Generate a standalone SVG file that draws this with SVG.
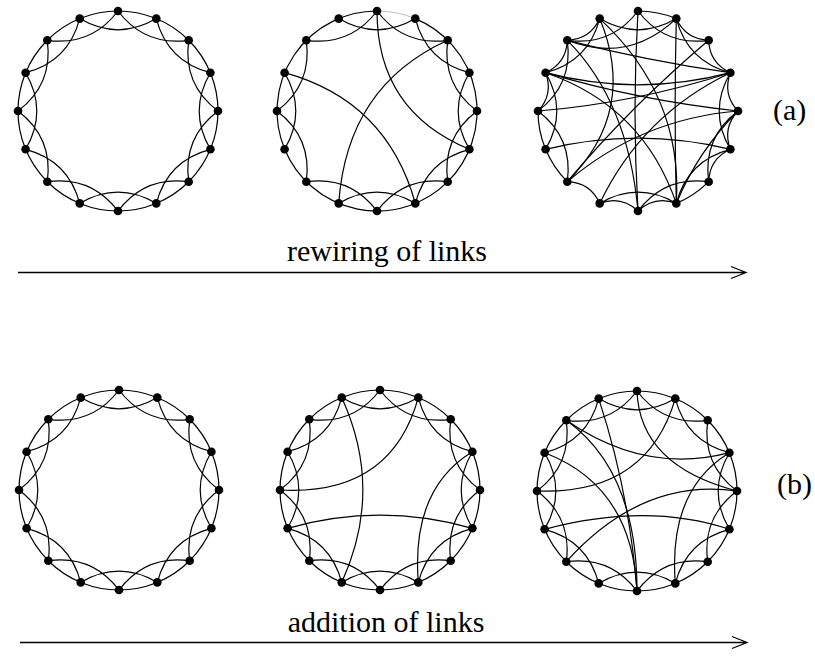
<svg xmlns="http://www.w3.org/2000/svg" xmlns:xlink="http://www.w3.org/1999/xlink" width="815" height="660" viewBox="0 0 815 660">
<style>
.e path,.e circle,.e use{fill:none;stroke:#000;stroke-width:1.2}
.faint{stroke:#b0b0b0 !important;stroke-width:0.8 !important}
.nd circle{fill:#000}
.t{font-family:"Liberation Serif","DejaVu Serif","Times New Roman",serif;font-size:30px;fill:#000}
.ax{fill:none;stroke:#000;stroke-width:1.3}
</style>
<defs>
<path id="s0" d="M0,-100 Q26.8,-64.7 70.7,-70.7"/>
<path id="s1" d="M38.3,-92.4 Q49.5,-49.5 92.4,-38.3"/>
<path id="s2" d="M70.7,-70.7 Q64.7,-26.8 100,0"/>
<path id="s3" d="M92.4,-38.3 Q70,0 92.4,38.3"/>
<path id="s4" d="M100,0 Q64.7,26.8 70.7,70.7"/>
<path id="s5" d="M92.4,38.3 Q49.5,49.5 38.3,92.4"/>
<path id="s6" d="M70.7,70.7 Q26.8,64.7 0,100"/>
<path id="s7" d="M38.3,92.4 Q0,70 -38.3,92.4"/>
<path id="s8" d="M0,100 Q-26.8,64.7 -70.7,70.7"/>
<path id="s9" d="M-38.3,92.4 Q-49.5,49.5 -92.4,38.3"/>
<path id="s10" d="M-70.7,70.7 Q-64.7,26.8 -100,0"/>
<path id="s11" d="M-92.4,38.3 Q-70,0 -92.4,-38.3"/>
<path id="s12" d="M-100,0 Q-64.7,-26.8 -70.7,-70.7"/>
<path id="s13" d="M-92.4,-38.3 Q-49.5,-49.5 -38.3,-92.4"/>
<path id="s14" d="M-70.7,-70.7 Q-26.8,-64.7 0,-100"/>
<path id="s15" d="M-38.3,-92.4 Q0,-70 38.3,-92.4"/>
<g id="lat">
<circle cx="0" cy="0" r="100"/>
<use href="#s0"/><use href="#s1"/><use href="#s2"/><use href="#s3"/><use href="#s4"/><use href="#s5"/><use href="#s6"/><use href="#s7"/><use href="#s8"/><use href="#s9"/><use href="#s10"/><use href="#s11"/><use href="#s12"/><use href="#s13"/><use href="#s14"/><use href="#s15"/>
</g>
</defs>
<rect width="815" height="660" fill="#fff"/>

<g id="connectors">
<g class="e" transform="translate(118,111)"><use href="#lat"/></g>
<g class="e" transform="translate(377,111)">
<path d="M38.3,-92.4 A100,100 0 1 1 0,-100"/>
<path class="faint" d="M0,-100 A100,100 0 0 1 38.3,-92.4"/>
<use href="#s0"/><use href="#s1"/><use href="#s2"/><use href="#s3"/><use href="#s4"/><use href="#s5"/><use href="#s6"/><use href="#s7"/><use href="#s8"/><use href="#s10"/><use href="#s11"/><use href="#s12"/><use href="#s14"/><use href="#s15"/>
<path d="M0,-100 Q0,0 92.4,38.3"/>
<path d="M-92.4,-38.3 Q10,-10 38.3,92.4"/>
<path d="M-38.3,92.4 Q-30,-25 70.7,-70.7"/>
</g>
<g class="e" transform="translate(638,111)">
<path d="M0,-100 A100,100 0 0 1 38.3,-92.4"/>
<path d="M70.7,70.7 A100,100 0 0 1 38.3,92.4"/>
<path d="M-70.7,70.7 A100,100 0 0 1 -92.4,38.3"/>
<path d="M-92.4,38.3 A100,100 0 0 1 -100,0"/>
<path d="M38.3,-92.4 Q47.8,-71.5 70.7,-70.7"/>
<path d="M70.7,-70.7 Q71.5,-47.8 92.4,-38.3"/>
<path d="M92.4,-38.3 Q84.3,-16.8 100,0"/>
<path d="M100,0 Q84.3,16.8 92.4,38.3"/>
<path d="M92.4,38.3 Q71.5,47.8 70.7,70.7"/>
<path d="M38.3,92.4 Q16.8,84.3 0,100"/>
<path d="M0,100 Q-16.8,84.3 -38.3,92.4"/>
<path d="M-38.3,92.4 Q-47.8,71.5 -70.7,70.7"/>
<path d="M-100,0 Q-84.3,-16.8 -92.4,-38.3"/>
<path d="M-92.4,-38.3 Q-71.5,-47.8 -70.7,-70.7"/>
<path d="M-70.7,-70.7 Q-47.8,-71.5 -38.3,-92.4"/>
<use href="#s15"/><use href="#s14"/><use href="#s0"/><use href="#s1"/><use href="#s13"/><use href="#s12"/><use href="#s11"/><use href="#s10"/><use href="#s7"/><use href="#s6"/><use href="#s5"/><use href="#s4"/><use href="#s3"/>
<path d="M-92.4,-38.3 Q3,-10 100,0"/>
<path d="M-92.4,-38.3 Q0,-14 92.4,-38.3"/>
<path d="M-100,0 Q-3,-8 92.4,-38.3"/>
<path d="M-92.4,38.3 Q0,16 92.4,38.3"/>
<path d="M-70.7,70.7 Q3,8 100,0"/>
<path d="M-70.7,70.7 Q-6,-6 70.7,-70.7"/>
<path d="M-38.3,92.4 Q4,4 92.4,-38.3"/>
<path d="M-38.3,-92.4 Q0,0 -70.7,70.7"/>
<path d="M-38.3,-92.4 Q45,-15 38.3,92.4"/>
<path d="M0,-100 Q-6,0 0,100"/>
<path d="M38.3,-92.4 Q36,0 38.3,92.4"/>
<path d="M-70.7,-70.7 Q10,-50 92.4,-38.3"/>
<path d="M-92.4,-38.3 Q5,-5 38.3,92.4"/>
<path d="M-70.7,-70.7 Q-10,-10 0,100"/>
<path d="M100,0 Q60,40 38.3,92.4"/>
<path d="M38.3,-92.4 Q-10,-47 -70.7,-70.7"/>
</g>
<g class="e" transform="translate(119,490)"><use href="#lat"/></g>
<g class="e" transform="translate(380,490)">
<use href="#lat"/>
<path d="M-38.3,-92.4 Q4,0 -38.3,92.4"/>
<path d="M38.3,-92.4 Q11,6 -100,0"/>
<path d="M-92.4,38.3 Q0,12 92.4,38.3"/>
<path d="M92.4,-38.3 Q31,-1 38.3,92.4"/>
</g>
<g class="e" transform="translate(637,491)">
<use href="#lat"/>
<path d="M-38.3,-92.4 Q-8,0 0,100"/>
<path d="M-70.7,-70.7 Q8.5,-16 92.4,-38.3"/>
<path d="M-70.7,-70.7 Q0,-20 0,100"/>
<path d="M-92.4,-38.3 Q-5,-5 0,100"/>
<path d="M-100,0 Q10,4 38.3,-92.4"/>
<path d="M-92.4,38.3 Q10,11 92.4,38.3"/>
<path d="M-70.7,70.7 Q4.8,-13.4 100,0"/>
<path d="M0,-100 Q2.6,-25.4 100,0"/>
<path d="M92.4,-38.3 Q31,-1 38.3,92.4"/>
</g>
<path class="ax" d="M18,272.5 H745 M731,266.5 L746,272.5 L731,278.5"/>
<path class="ax" d="M20,642.5 H746 M732,636.5 L747,642.5 L732,648.5"/>
</g>

<g transform="translate(118,111)" class="nd">
<g id="a1n0"><circle cx="0" cy="-100" r="4.3"/></g><g id="a1n1"><circle cx="38.3" cy="-92.4" r="4.3"/></g><g id="a1n2"><circle cx="70.7" cy="-70.7" r="4.3"/></g><g id="a1n3"><circle cx="92.4" cy="-38.3" r="4.3"/></g><g id="a1n4"><circle cx="100" cy="0" r="4.3"/></g><g id="a1n5"><circle cx="92.4" cy="38.3" r="4.3"/></g><g id="a1n6"><circle cx="70.7" cy="70.7" r="4.3"/></g><g id="a1n7"><circle cx="38.3" cy="92.4" r="4.3"/></g><g id="a1n8"><circle cx="0" cy="100" r="4.3"/></g><g id="a1n9"><circle cx="-38.3" cy="92.4" r="4.3"/></g><g id="a1n10"><circle cx="-70.7" cy="70.7" r="4.3"/></g><g id="a1n11"><circle cx="-92.4" cy="38.3" r="4.3"/></g><g id="a1n12"><circle cx="-100" cy="0" r="4.3"/></g><g id="a1n13"><circle cx="-92.4" cy="-38.3" r="4.3"/></g><g id="a1n14"><circle cx="-70.7" cy="-70.7" r="4.3"/></g><g id="a1n15"><circle cx="-38.3" cy="-92.4" r="4.3"/></g>
</g>
<g transform="translate(377,111)" class="nd">
<g id="a2n0"><circle cx="0" cy="-100" r="4.3"/></g><g id="a2n1"><circle cx="38.3" cy="-92.4" r="4.3"/></g><g id="a2n2"><circle cx="70.7" cy="-70.7" r="4.3"/></g><g id="a2n3"><circle cx="92.4" cy="-38.3" r="4.3"/></g><g id="a2n4"><circle cx="100" cy="0" r="4.3"/></g><g id="a2n5"><circle cx="92.4" cy="38.3" r="4.3"/></g><g id="a2n6"><circle cx="70.7" cy="70.7" r="4.3"/></g><g id="a2n7"><circle cx="38.3" cy="92.4" r="4.3"/></g><g id="a2n8"><circle cx="0" cy="100" r="4.3"/></g><g id="a2n9"><circle cx="-38.3" cy="92.4" r="4.3"/></g><g id="a2n10"><circle cx="-70.7" cy="70.7" r="4.3"/></g><g id="a2n11"><circle cx="-92.4" cy="38.3" r="4.3"/></g><g id="a2n12"><circle cx="-100" cy="0" r="4.3"/></g><g id="a2n13"><circle cx="-92.4" cy="-38.3" r="4.3"/></g><g id="a2n14"><circle cx="-70.7" cy="-70.7" r="4.3"/></g><g id="a2n15"><circle cx="-38.3" cy="-92.4" r="4.3"/></g>
</g>
<g transform="translate(638,111)" class="nd">
<g id="a3n0"><circle cx="0" cy="-100" r="4.3"/></g><g id="a3n1"><circle cx="38.3" cy="-92.4" r="4.3"/></g><g id="a3n2"><circle cx="70.7" cy="-70.7" r="4.3"/></g><g id="a3n3"><circle cx="92.4" cy="-38.3" r="4.3"/></g><g id="a3n4"><circle cx="100" cy="0" r="4.3"/></g><g id="a3n5"><circle cx="92.4" cy="38.3" r="4.3"/></g><g id="a3n6"><circle cx="70.7" cy="70.7" r="4.3"/></g><g id="a3n7"><circle cx="38.3" cy="92.4" r="4.3"/></g><g id="a3n8"><circle cx="0" cy="100" r="4.3"/></g><g id="a3n9"><circle cx="-38.3" cy="92.4" r="4.3"/></g><g id="a3n10"><circle cx="-70.7" cy="70.7" r="4.3"/></g><g id="a3n11"><circle cx="-92.4" cy="38.3" r="4.3"/></g><g id="a3n12"><circle cx="-100" cy="0" r="4.3"/></g><g id="a3n13"><circle cx="-92.4" cy="-38.3" r="4.3"/></g><g id="a3n14"><circle cx="-70.7" cy="-70.7" r="4.3"/></g><g id="a3n15"><circle cx="-38.3" cy="-92.4" r="4.3"/></g>
</g>
<g transform="translate(119,490)" class="nd">
<g id="b1n0"><circle cx="0" cy="-100" r="4.3"/></g><g id="b1n1"><circle cx="38.3" cy="-92.4" r="4.3"/></g><g id="b1n2"><circle cx="70.7" cy="-70.7" r="4.3"/></g><g id="b1n3"><circle cx="92.4" cy="-38.3" r="4.3"/></g><g id="b1n4"><circle cx="100" cy="0" r="4.3"/></g><g id="b1n5"><circle cx="92.4" cy="38.3" r="4.3"/></g><g id="b1n6"><circle cx="70.7" cy="70.7" r="4.3"/></g><g id="b1n7"><circle cx="38.3" cy="92.4" r="4.3"/></g><g id="b1n8"><circle cx="0" cy="100" r="4.3"/></g><g id="b1n9"><circle cx="-38.3" cy="92.4" r="4.3"/></g><g id="b1n10"><circle cx="-70.7" cy="70.7" r="4.3"/></g><g id="b1n11"><circle cx="-92.4" cy="38.3" r="4.3"/></g><g id="b1n12"><circle cx="-100" cy="0" r="4.3"/></g><g id="b1n13"><circle cx="-92.4" cy="-38.3" r="4.3"/></g><g id="b1n14"><circle cx="-70.7" cy="-70.7" r="4.3"/></g><g id="b1n15"><circle cx="-38.3" cy="-92.4" r="4.3"/></g>
</g>
<g transform="translate(380,490)" class="nd">
<g id="b2n0"><circle cx="0" cy="-100" r="4.3"/></g><g id="b2n1"><circle cx="38.3" cy="-92.4" r="4.3"/></g><g id="b2n2"><circle cx="70.7" cy="-70.7" r="4.3"/></g><g id="b2n3"><circle cx="92.4" cy="-38.3" r="4.3"/></g><g id="b2n4"><circle cx="100" cy="0" r="4.3"/></g><g id="b2n5"><circle cx="92.4" cy="38.3" r="4.3"/></g><g id="b2n6"><circle cx="70.7" cy="70.7" r="4.3"/></g><g id="b2n7"><circle cx="38.3" cy="92.4" r="4.3"/></g><g id="b2n8"><circle cx="0" cy="100" r="4.3"/></g><g id="b2n9"><circle cx="-38.3" cy="92.4" r="4.3"/></g><g id="b2n10"><circle cx="-70.7" cy="70.7" r="4.3"/></g><g id="b2n11"><circle cx="-92.4" cy="38.3" r="4.3"/></g><g id="b2n12"><circle cx="-100" cy="0" r="4.3"/></g><g id="b2n13"><circle cx="-92.4" cy="-38.3" r="4.3"/></g><g id="b2n14"><circle cx="-70.7" cy="-70.7" r="4.3"/></g><g id="b2n15"><circle cx="-38.3" cy="-92.4" r="4.3"/></g>
</g>
<g transform="translate(637,491)" class="nd">
<g id="b3n0"><circle cx="0" cy="-100" r="4.3"/></g><g id="b3n1"><circle cx="38.3" cy="-92.4" r="4.3"/></g><g id="b3n2"><circle cx="70.7" cy="-70.7" r="4.3"/></g><g id="b3n3"><circle cx="92.4" cy="-38.3" r="4.3"/></g><g id="b3n4"><circle cx="100" cy="0" r="4.3"/></g><g id="b3n5"><circle cx="92.4" cy="38.3" r="4.3"/></g><g id="b3n6"><circle cx="70.7" cy="70.7" r="4.3"/></g><g id="b3n7"><circle cx="38.3" cy="92.4" r="4.3"/></g><g id="b3n8"><circle cx="0" cy="100" r="4.3"/></g><g id="b3n9"><circle cx="-38.3" cy="92.4" r="4.3"/></g><g id="b3n10"><circle cx="-70.7" cy="70.7" r="4.3"/></g><g id="b3n11"><circle cx="-92.4" cy="38.3" r="4.3"/></g><g id="b3n12"><circle cx="-100" cy="0" r="4.3"/></g><g id="b3n13"><circle cx="-92.4" cy="-38.3" r="4.3"/></g><g id="b3n14"><circle cx="-70.7" cy="-70.7" r="4.3"/></g><g id="b3n15"><circle cx="-38.3" cy="-92.4" r="4.3"/></g>
</g>

<text class="t" x="387" y="261" text-anchor="middle" font-family="Liberation Serif, DejaVu Serif, serif">rewiring of links</text>
<text class="t" x="386" y="632" text-anchor="middle" font-family="Liberation Serif, DejaVu Serif, serif">addition of links</text>
<text class="t" x="773" y="120" font-family="Liberation Serif, DejaVu Serif, serif">(a)</text>
<text class="t" x="777" y="494" font-family="Liberation Serif, DejaVu Serif, serif">(b)</text>
</svg>
